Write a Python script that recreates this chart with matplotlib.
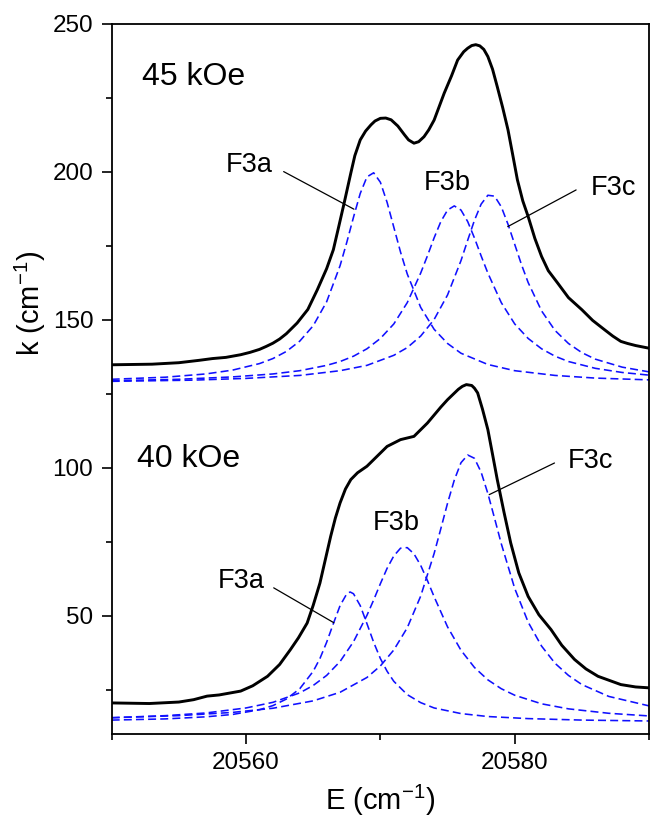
import matplotlib
matplotlib.use("Agg")
import matplotlib.pyplot as plt
from matplotlib.ticker import FixedLocator

plt.rcParams['font.family'] = ['Liberation Sans', 'DejaVu Sans']
plt.rcParams['mathtext.fontset'] = 'custom'
plt.rcParams['mathtext.rm'] = 'Liberation Sans'
plt.rcParams['mathtext.it'] = 'Liberation Sans:italic'

# ---------------- data ----------------
# 45 kOe measured spectrum
E45 = [20550, 20553, 20555, 20556.5, 20557.5, 20558.5, 20559.6, 20560.3, 20561, 20561.5,
       20562, 20562.5, 20563, 20563.8, 20564.6, 20565.3, 20566, 20566.5, 20566.9,
       20567.3, 20567.8, 20568.1, 20568.5, 20568.9, 20569.3, 20569.6, 20570, 20570.4,
       20570.8, 20571.3, 20571.8, 20572.1, 20572.5, 20572.85, 20573.25, 20573.6, 20574,
       20574.75, 20575.3, 20575.75, 20576.2, 20576.5, 20576.8, 20577.1, 20577.4, 20577.7,
       20578, 20578.35, 20578.7, 20579.1, 20579.5, 20579.85, 20580.2, 20580.6, 20581,
       20581.5, 20582, 20582.5, 20583.2, 20584, 20585, 20585.8, 20586.7, 20587.3, 20587.9,
       20588.4, 20589, 20590]
k45 = [134.8, 135.0, 135.5, 136.3, 136.9, 137.3, 138.2, 139.0, 140.0, 141.0,
       142.1, 143.5, 145.3, 148.9, 153.5, 160.1, 167.3, 173.7, 181.5,
       189.4, 199.6, 205.5, 210.8, 213.8, 215.9, 217.2, 218.1, 218.2,
       217.6, 215.5, 212.5, 210.8, 209.7, 210.2, 211.9, 214.2, 217.5,
       226.6, 232.5, 237.8, 240.6, 241.8, 242.7, 243.0, 242.6, 241.4,
       239.0, 234.7, 228.8, 221.8, 214.2, 205.8, 197.3, 190.2, 184.9,
       177.5, 171.4, 166.6, 162.4, 157.5, 153.4, 149.8, 146.6, 144.5, 142.7,
       142.0, 141.3, 140.4]

# 45 kOe fitted components
E45a = [20550, 20554, 20557, 20559, 20561, 20562, 20563, 20564, 20565, 20566, 20567,
        20567.5, 20568, 20568.5, 20569, 20569.5, 20570, 20570.5, 20571, 20571.5, 20572,
        20573, 20574, 20575, 20576, 20578, 20580, 20583, 20586, 20590]
k45a = [129.9, 130.6, 131.7, 133.0, 135.2, 136.9, 139.3, 142.8, 148.0, 156.1, 168.3,
        176.2, 184.7, 192.7, 198.3, 199.7, 196.5, 189.7, 181.3, 172.9, 165.5,
        154.2, 146.8, 142.0, 138.7, 134.9, 132.8, 131.2, 130.3, 129.7]

E45b = [20550, 20555, 20559, 20562, 20564, 20566, 20567, 20568, 20569, 20570, 20571,
        20572, 20573, 20573.5, 20574, 20574.5, 20575, 20575.5, 20576, 20576.5, 20577,
        20577.5, 20578, 20579, 20580, 20581, 20582, 20583, 20584, 20586, 20588, 20590]
k45b = [129.4, 129.9, 130.7, 131.7, 132.8, 134.6, 135.9, 137.7, 140.2, 143.7, 148.6,
        155.8, 165.8, 171.6, 177.7, 183.2, 187.1, 188.5, 187.1, 183.2, 177.7,
        171.6, 165.8, 155.8, 148.6, 143.7, 140.2, 137.7, 135.9, 133.6, 132.2, 131.3]

E45c = [20550, 20556, 20560, 20564, 20567, 20569, 20571, 20572, 20573, 20574, 20575,
        20576, 20576.5, 20577, 20577.5, 20578, 20578.5, 20579, 20579.5, 20580, 20580.5,
        20581, 20582, 20583, 20584, 20585, 20586, 20588, 20590]
k45c = [129.2, 129.6, 130.2, 131.2, 132.8, 134.6, 138.0, 140.6, 144.5, 150.1, 158.4,
        170.0, 176.9, 183.6, 189.1, 192.1, 191.8, 188.2, 182.3, 175.5, 168.7,
        162.6, 153.0, 146.4, 142.0, 138.9, 136.7, 134.0, 132.4]

# 40 kOe measured spectrum
E40 = [20550, 20552.8, 20555, 20556.1, 20557.1, 20558, 20559.6, 20560.5, 20561.6,
       20562.5, 20563.3, 20563.9, 20564.55, 20565.0, 20565.5, 20566.3, 20566.65, 20567,
       20567.4, 20567.8, 20568.3, 20569, 20570.5, 20571.5, 20572.5, 20573.5, 20574.5,
       20575, 20575.8, 20576.1, 20576.4, 20576.8, 20577.0, 20577.24, 20577.6, 20578,
       20578.35, 20578.7, 20579.2, 20579.7, 20580.3, 20581, 20581.8, 20582.7, 20583.5,
       20584.45, 20585.3, 20586.2, 20587.9, 20589, 20590]
k40 = [20.5, 20.3, 20.8, 21.6, 22.8, 23.2, 24.5, 26.3, 29.5,
       33.5, 38.5, 42.5, 47.5, 53.5, 61.0, 76.8, 83.0, 88.1,
       92.8, 96.0, 98.3, 100.5, 107.2, 109.5, 110.6, 115.1, 120.5,
       123.0, 126.5, 127.5, 128.1, 127.8, 126.9, 125.3, 119.8, 112.9,
       104.5, 96.0, 85.0, 74.6, 64.5, 56.5, 50.3, 45.3, 40.0,
       35.2, 32.0, 29.5, 26.7, 25.9, 25.6]

# 40 kOe fitted components
E40a = [20550, 20554, 20557, 20559, 20561, 20562, 20563, 20564, 20565, 20565.5, 20566,
        20566.5, 20567, 20567.5, 20567.75, 20568, 20568.5, 20569, 20569.5, 20570, 20570.5,
        20571, 20572, 20573, 20574, 20576, 20578, 20581, 20585, 20590]
k40a = [14.7, 15.1, 15.8, 16.6, 18.2, 19.6, 21.8, 25.3, 31.2, 35.5, 41.0,
        47.3, 53.4, 57.4, 58.0, 57.4, 53.4, 47.3, 41.0, 35.5, 31.2,
        27.8, 23.3, 20.6, 18.8, 16.9, 15.9, 15.2, 14.7, 14.4]

E40b = [20550, 20554, 20557, 20560, 20562, 20564, 20565, 20566, 20567, 20568, 20569,
        20569.5, 20570, 20570.5, 20571, 20571.5, 20572, 20572.5, 20573, 20573.5, 20574,
        20575, 20576, 20577, 20578, 20579, 20580, 20582, 20584, 20587, 20590]
k40b = [15.5, 16.2, 17.1, 18.8, 20.7, 23.9, 26.4, 29.8, 34.5, 41.2, 50.1,
        55.3, 60.8, 66.0, 70.2, 72.8, 73.0, 70.9, 67.0, 61.9, 56.4,
        46.2, 38.3, 32.5, 28.3, 25.3, 23.1, 20.2, 18.5, 17.0, 16.1]

E40c = [20550, 20555, 20559, 20562, 20565, 20567, 20569, 20570, 20571, 20572, 20573,
        20574, 20574.5, 20575, 20575.5, 20576, 20576.5, 20577, 20577.5, 20578, 20578.5,
        20579, 20580, 20581, 20582, 20583, 20584, 20585, 20587, 20590]
k40c = [15.5, 16.2, 17.3, 18.7, 21.2, 24.1, 29.1, 33.0, 38.4, 45.9, 56.6,
        71.0, 79.4, 88.0, 95.8, 101.7, 104.3, 103.2, 98.5, 91.3, 82.9,
        74.3, 59.2, 47.8, 39.7, 33.9, 29.8, 26.7, 22.7, 19.5]

field_labels = ["45 kOe", "40 kOe"]
comp_labels = ["F3a", "F3b", "F3c"]
x_ticks = [20560, 20580]
y_ticks = [50, 100, 150, 200, 250]

# ---------------- figure ----------------
fig = plt.figure(figsize=(6.52, 8.18), dpi=100)
ax = fig.add_axes([0.1713, 0.1027, 0.8242, 0.8680])

black_kw = dict(color='black', lw=2.1, solid_joinstyle='round')
dash_kw = dict(color='#1010ff', lw=1.15, dashes=(5, 2.6))

ax.plot(E45, k45, **black_kw)
ax.plot(E40, k40, **black_kw)
for E, k in [(E45a, k45a), (E45b, k45b), (E45c, k45c),
             (E40a, k40a), (E40b, k40b), (E40c, k40c)]:
    ax.plot(E, k, **dash_kw)

# field labels (left, baseline positions)
ax.text(20552.26, 229.4, field_labels[0], fontsize=23, ha='left', va='baseline')
ax.text(20551.89, 100.35, field_labels[1], fontsize=23, ha='left', va='baseline')

# component labels
lab_pos_45 = [(20558.46, 200.0), (20573.23, 193.9), (20585.69, 192.2)]
lab_pos_40 = [(20557.93, 59.5), (20569.4, 79.1), (20583.96, 100.0)]
for name, (x, y) in zip(comp_labels, lab_pos_45):
    ax.text(x, y, name, fontsize=19.5, ha='left', va='baseline')
for name, (x, y) in zip(comp_labels, lab_pos_40):
    ax.text(x, y, name, fontsize=19.5, ha='left', va='baseline')

# leader lines
leaders = [((20562.8, 200.1), (20568.03, 187.4)),
           ((20584.57, 193.9), (20579.48, 181.5)),
           ((20562.06, 59.4), (20566.54, 47.6)),
           ((20582.96, 101.6), (20578.10, 90.9))]
for (x0, y0), (x1, y1) in leaders:
    ax.annotate('', xy=(x1, y1), xytext=(x0, y0),
                arrowprops=dict(arrowstyle='-', lw=0.9, color='black',
                                shrinkA=0, shrinkB=0))

ax.set_xlim(20550, 20590)
ax.set_ylim(10, 250)
ax.xaxis.set_major_locator(FixedLocator(x_ticks))
ax.xaxis.set_minor_locator(FixedLocator([20550, 20570, 20590]))
ax.yaxis.set_major_locator(FixedLocator(y_ticks))
ax.yaxis.set_minor_locator(FixedLocator([25, 75, 125, 175, 225]))
ax.ticklabel_format(useOffset=False, style='plain', axis='x')
ax.tick_params(which='major', direction='out', length=7.2, width=1.2,
               labelsize=17.5, pad=6, top=False, right=False)
ax.tick_params(which='minor', direction='out', length=4.2, width=1.2,
               top=False, right=False)
for s in ax.spines.values():
    s.set_linewidth(1.3)

fig.text(380 / 652, 1 - 800 / 818, r'E (cm$^{\mathregular{-1}}$)', fontsize=21,
         ha='center', va='center')
fig.text(30 / 652, 1 - 303 / 818, r'k (cm$^{\mathregular{-1}}$)', fontsize=21,
         ha='center', va='center', rotation=90)

fig.savefig('out.png', dpi=100)
